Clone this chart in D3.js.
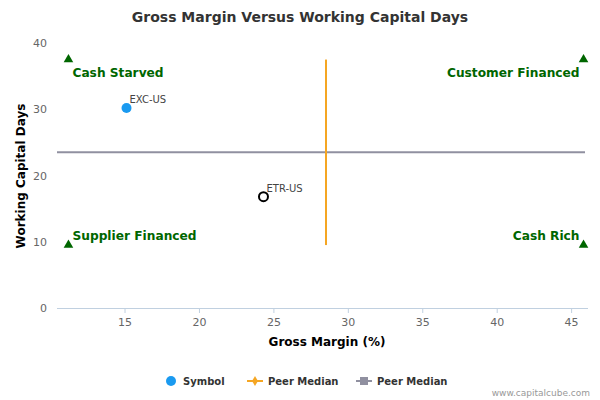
<!DOCTYPE html><html><head><meta charset="utf-8"><script src="https://cdn.jsdelivr.net/npm/d3@7"></script>
<style>body{margin:0;background:#fff}text{font-family:"DejaVu Sans",sans-serif}</style></head><body><svg id="c" width="600" height="400"></svg><script>
const xTicks=[15,20,25,30,35,40,45];
const yTicks=[0,10,20,30,40];
const symbols=[{name:"EXC-US",x:15.1,y:30.2,filled:true},{name:"ETR-US",x:24.3,y:16.8,filled:false}];
const peerMedianX=28.5, peerMedianY=23.5;
const quadY=[9.5,37.5], quadX=[11.2,45.8];
const quadrants=[{t:"Cash Starved",x:11.2,y:37.5,a:"start",top:true},{t:"Customer Financed",x:45.8,y:37.5,a:"end",top:true},{t:"Supplier Financed",x:11.2,y:9.5,a:"start",top:false},{t:"Cash Rich",x:45.8,y:9.5,a:"end",top:false}];
const svg=d3.select("#c");
const x=d3.scaleLinear().domain([10.43,46.1]).range([57,588]);
const y=d3.scaleLinear().domain([0,40]).range([308,43]);
svg.append("text").attr("x",300).attr("y",22).attr("text-anchor","middle").attr("font-size",14).attr("font-weight","bold").attr("fill","#333").text("Gross Margin Versus Working Capital Days");
svg.append("line").attr("x1",57).attr("x2",588).attr("y1",308.5).attr("y2",308.5).attr("stroke","#c0d0e0");
xTicks.forEach(t=>{svg.append("line").attr("x1",x(t)).attr("x2",x(t)).attr("y1",308).attr("y2",313).attr("stroke","#c0d0e0");
svg.append("text").attr("x",x(t)).attr("y",326).attr("text-anchor","middle").attr("font-size",11).attr("fill","#666").text(t);});
yTicks.forEach(t=>svg.append("text").attr("x",47).attr("y",y(t)+4).attr("text-anchor","end").attr("font-size",11).attr("fill","#666").text(t));
svg.append("text").attr("x",327).attr("y",346).attr("text-anchor","middle").attr("font-size",12).attr("font-weight","bold").attr("fill","#000").text("Gross Margin (%)");
svg.append("text").attr("transform","translate(25,176) rotate(-90)").attr("text-anchor","middle").attr("font-size",12).attr("font-weight","bold").attr("fill","#000").text("Working Capital Days");
svg.append("line").attr("x1",57).attr("x2",585).attr("y1",y(peerMedianY)).attr("y2",y(peerMedianY)).attr("stroke","#9090a0").attr("stroke-width",2);
svg.append("line").attr("x1",x(peerMedianX)).attr("x2",x(peerMedianX)).attr("y1",y(quadY[0])).attr("y2",y(quadY[1])).attr("stroke","#f5a623").attr("stroke-width",2);
const tri=d3.symbol().type(d3.symbolTriangle).size(40);
quadrants.forEach(q=>{svg.append("path").attr("d",tri).attr("transform",`translate(${x(q.x)},${y(q.y)})`).attr("fill","#006600");
svg.append("text").attr("x",x(q.x)+(q.a=="start"?4:-4)).attr("y",y(q.y)+(q.top?17:-5)).attr("text-anchor",q.a).attr("font-size",12.2).attr("font-weight","bold").attr("fill","#006600").text(q.t);});
symbols.forEach(s=>{svg.append("circle").attr("cx",x(s.x)).attr("cy",y(s.y)).attr("r",s.filled?5:4.5).attr("fill",s.filled?"#1a9af0":"#fff").attr("stroke",s.filled?"none":"#000").attr("stroke-width",2);
svg.append("text").attr("x",x(s.x)+3).attr("y",y(s.y)-5).attr("font-size",10).attr("fill","#444").text(s.name);});
const lg=svg.append("g");
lg.append("circle").attr("cx",171).attr("cy",381).attr("r",5).attr("fill","#1a9af0");
lg.append("text").attr("x",183).attr("y",385).attr("font-size",10).attr("font-weight","bold").attr("fill","#333").text("Symbol");
lg.append("line").attr("x1",247).attr("x2",263).attr("y1",381).attr("y2",381).attr("stroke","#f5a623").attr("stroke-width",2);
lg.append("path").attr("d",d3.symbol().type(d3.symbolDiamond).size(30)).attr("transform","translate(255,381)").attr("fill","#f5a623");
lg.append("text").attr("x",268).attr("y",385).attr("font-size",10).attr("font-weight","bold").attr("fill","#333").text("Peer Median");
lg.append("line").attr("x1",356).attr("x2",372).attr("y1",381).attr("y2",381).attr("stroke","#9090a0").attr("stroke-width",2);
lg.append("rect").attr("x",360).attr("y",377).attr("width",8).attr("height",8).attr("fill","#9090a0");
lg.append("text").attr("x",377).attr("y",385).attr("font-size",10).attr("font-weight","bold").attr("fill","#333").text("Peer Median");
svg.append("text").attr("x",590).attr("y",396).attr("text-anchor","end").attr("font-size",9).attr("fill","#999").text("www.capitalcube.com");
</script></body></html>
